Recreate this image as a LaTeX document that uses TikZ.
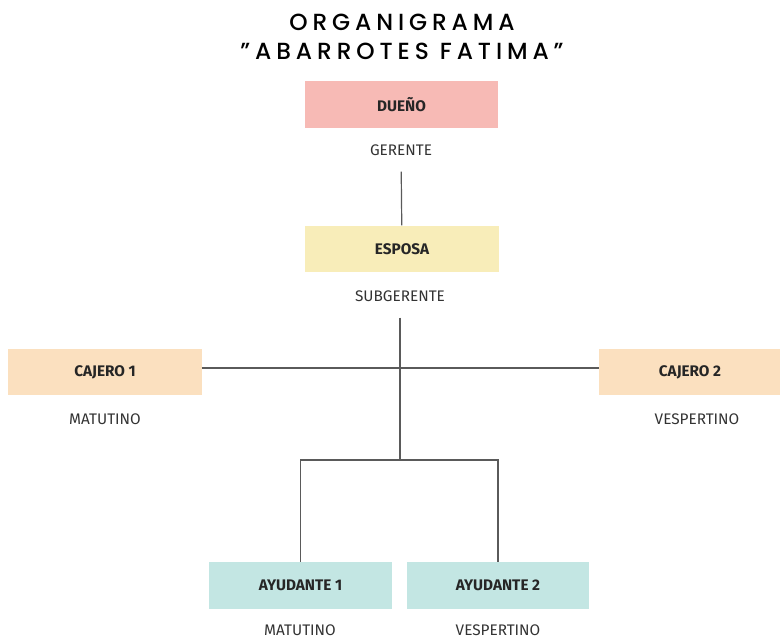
\documentclass[tikz,border=0pt]{standalone}
\usepackage{fontspec}
\setmainfont{Fira Sans}
\newfontfamily\titlefont[LetterSpace=21]{Poppins Medium}
\usepackage{xcolor}
\usetikzlibrary{positioning, calc}
\definecolor{boxpink}{HTML}{F7BAB5}
\definecolor{boxyellow}{HTML}{F8EDB9}
\definecolor{boxpeach}{HTML}{FBE0BF}
\definecolor{boxteal}{HTML}{C3E6E3}
\definecolor{linegray}{HTML}{5A5A5A}

\begin{document}
\begin{tikzpicture}[
    x=0.75pt, y=-0.75pt,
    role/.style={minimum width=145pt, minimum height=35pt, align=center,
                 font=\bfseries\fontsize{11.5}{13}\selectfont, text=black!85, inner sep=0pt},
    shiftlabel/.style={font=\fontsize{11.5}{13}\selectfont, text=black!80, inner sep=0pt},
    link/.style={draw=linegray, line width=0.9pt}
]
    \useasboundingbox (0,0) rectangle (780,639);
    % title
    \node[font=\titlefont\fontsize{17.5}{22}\selectfont, align=center] (title) at (402,37)
        {ORGANIGRAMA\\”ABARROTES FATIMA”};

    % boxes
    \node[role, fill=boxpink] (dueno) at (401.5,104.5) {DUEÑO};
    \node[shiftlabel] (gerente) at (401,150) {GERENTE};
    \node[role, fill=boxyellow] (esposa) at (402,249) {ESPOSA};
    \node[shiftlabel] (subgerente) at (400,296) {SUBGERENTE};
    \node[role, fill=boxpeach] (cajeroA) at (105,372) {CAJERO 1};
    \node[shiftlabel] (matutinoA) at (105,419) {MATUTINO};
    \node[role, fill=boxpeach, minimum width=136pt] (cajeroB) at (690,372) {CAJERO 2};
    \node[shiftlabel] (vespertinoA) at (697,419) {VESPERTINO};
    \node[role, fill=boxteal, minimum width=137pt] (ayudanteA) at (300.5,585.5) {AYUDANTE 1};
    \node[shiftlabel] (matutinoB) at (300,630) {MATUTINO};
    \node[role, fill=boxteal, minimum width=137pt] (ayudanteB) at (498,585.5) {AYUDANTE 2};
    \node[shiftlabel] (vespertinoB) at (498,630) {VESPERTINO};

    % connectors
    \coordinate (split) at (400,460);
    \draw[link, shorten <=12pt] (gerente) -- (esposa);
    \draw[link, shorten <=12pt] (subgerente) -- (split);
    \draw[link] ([yshift=3pt]cajeroA.east) -- ([yshift=3pt]cajeroB.west);
    \draw[link] (split) -| (ayudanteA);
    \draw[link] (split) -| (ayudanteB);
\end{tikzpicture}
\end{document}
